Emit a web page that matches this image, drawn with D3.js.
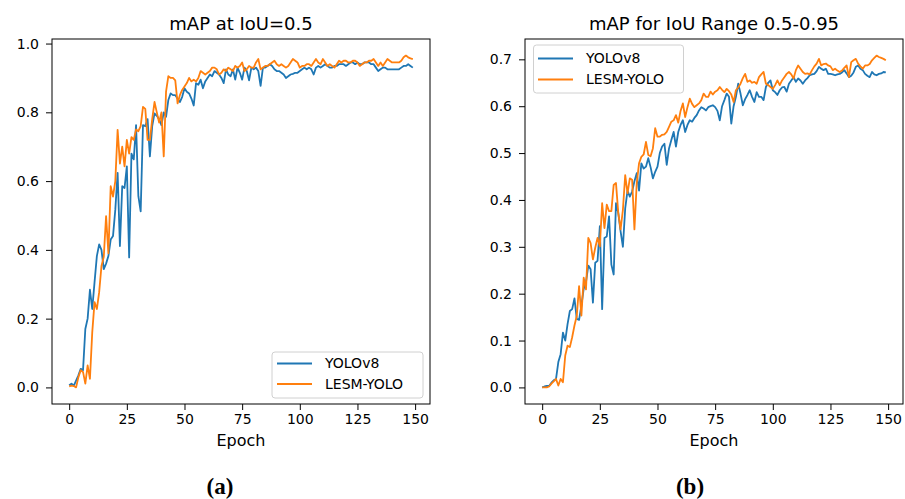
<!DOCTYPE html>
<html><head><meta charset="utf-8">
<script src="https://cdn.jsdelivr.net/npm/d3@7"></script>
<style>body{margin:0;background:#fff;} svg{display:block;}</style>
</head><body>
<svg id="chart" width="905" height="499"></svg>
<script>
const epochs = d3.range(0, 150);
const seriesNames = ["YOLOv8", "LESM-YOLO"];
const seriesColors = ["#1f77b4", "#ff7f0e"];
const titles = ["mAP at IoU=0.5", "mAP for IoU Range 0.5-0.95"];
const panelLabels = ["(a)", "(b)"];
const xTicks = [0, 25, 50, 75, 100, 125, 150];
const yTicksA = [0.0, 0.2, 0.4, 0.6, 0.8, 1.0];
const yTicksB = [0.0, 0.1, 0.2, 0.3, 0.4, 0.5, 0.6, 0.7];

const yoloMap50 = [0.006,0.011,0.005,0.02,0.035,0.054,0.05,0.17,0.2,0.284,
0.228,0.306,0.382,0.416,0.40,0.344,0.36,0.382,0.43,0.44,
0.517,0.624,0.411,0.585,0.58,0.643,0.378,0.68,0.663,0.763,
0.556,0.512,0.763,0.76,0.78,0.672,0.76,0.797,0.79,0.78,
0.763,0.80,0.787,0.836,0.855,0.85,0.85,0.84,0.83,0.845,
0.87,0.86,0.855,0.84,0.82,0.885,0.88,0.895,0.87,0.89,
0.9,0.91,0.905,0.92,0.915,0.91,0.9,0.885,0.925,0.91,
0.905,0.925,0.895,0.93,0.915,0.895,0.93,0.92,0.893,0.93,
0.925,0.93,0.92,0.877,0.93,0.93,0.935,0.94,0.935,0.925,
0.92,0.92,0.915,0.91,0.9,0.905,0.91,0.912,0.915,0.915,
0.92,0.925,0.93,0.925,0.93,0.925,0.91,0.93,0.935,0.93,
0.935,0.94,0.935,0.93,0.93,0.935,0.935,0.94,0.94,0.94,
0.935,0.94,0.945,0.945,0.94,0.945,0.94,0.94,0.945,0.945,
0.945,0.94,0.94,0.93,0.92,0.925,0.93,0.93,0.925,0.925,
0.925,0.925,0.925,0.925,0.93,0.935,0.935,0.94,0.935,0.93];

const lesmMap50 = [0.003,0.005,0.004,0.0,0.03,0.05,0.045,0.011,0.064,0.025,
0.16,0.248,0.228,0.277,0.353,0.38,0.498,0.39,0.585,0.555,
0.6,0.749,0.651,0.70,0.643,0.72,0.68,0.728,0.72,0.75,
0.745,0.76,0.816,0.81,0.72,0.72,0.78,0.83,0.80,0.77,
0.8,0.672,0.86,0.905,0.9,0.9,0.893,0.826,0.85,0.865,
0.875,0.885,0.9,0.89,0.895,0.89,0.9,0.92,0.915,0.91,
0.915,0.92,0.93,0.93,0.925,0.91,0.915,0.925,0.92,0.93,
0.925,0.92,0.935,0.93,0.935,0.945,0.92,0.925,0.935,0.93,
0.93,0.945,0.955,0.925,0.93,0.935,0.935,0.94,0.945,0.95,
0.94,0.935,0.94,0.935,0.93,0.935,0.945,0.955,0.95,0.945,
0.93,0.935,0.935,0.94,0.94,0.935,0.945,0.955,0.945,0.94,
0.955,0.945,0.935,0.94,0.935,0.93,0.94,0.95,0.945,0.95,
0.95,0.945,0.945,0.95,0.95,0.945,0.935,0.94,0.945,0.945,
0.95,0.95,0.955,0.945,0.935,0.945,0.935,0.945,0.955,0.95,
0.945,0.945,0.945,0.945,0.95,0.96,0.965,0.96,0.957,0.955];

const yoloMap5095 = [0.0,0.002,0.003,0.003,0.01,0.015,0.018,0.054,0.071,0.117,
0.1,0.135,0.163,0.167,0.19,0.146,0.144,0.175,0.21,0.225,
0.26,0.252,0.181,0.266,0.27,0.344,0.167,0.319,0.322,0.365,
0.262,0.241,0.393,0.372,0.333,0.3,0.382,0.42,0.407,0.418,
0.44,0.457,0.42,0.478,0.467,0.471,0.489,0.47,0.446,0.46,
0.471,0.5,0.514,0.52,0.475,0.51,0.528,0.545,0.514,0.545,
0.56,0.57,0.545,0.56,0.57,0.567,0.575,0.581,0.591,0.598,
0.595,0.591,0.598,0.6,0.602,0.598,0.59,0.57,0.6,0.613,
0.627,0.62,0.563,0.6,0.62,0.648,0.627,0.602,0.615,0.624,
0.634,0.62,0.609,0.63,0.62,0.62,0.613,0.641,0.65,0.655,
0.634,0.63,0.624,0.634,0.64,0.641,0.631,0.648,0.655,0.662,
0.652,0.659,0.655,0.648,0.655,0.66,0.666,0.668,0.669,0.675,
0.684,0.68,0.677,0.68,0.669,0.669,0.668,0.666,0.668,0.669,
0.672,0.677,0.67,0.662,0.665,0.672,0.684,0.687,0.68,0.677,
0.669,0.665,0.662,0.673,0.668,0.666,0.669,0.67,0.673,0.672];

const lesmMap5095 = [0.0,0.0,0.0,0.002,0.008,0.013,0.018,0.004,0.018,0.011,
0.068,0.089,0.086,0.107,0.132,0.153,0.216,0.153,0.234,0.209,
0.319,0.308,0.273,0.298,0.319,0.301,0.393,0.34,0.39,0.376,
0.376,0.432,0.436,0.372,0.337,0.379,0.453,0.414,0.446,0.443,
0.337,0.436,0.478,0.492,0.497,0.524,0.496,0.493,0.51,0.553,
0.535,0.535,0.539,0.54,0.545,0.556,0.567,0.57,0.581,0.565,
0.59,0.606,0.577,0.598,0.616,0.605,0.598,0.602,0.606,0.613,
0.627,0.62,0.62,0.631,0.625,0.631,0.634,0.641,0.635,0.63,
0.637,0.632,0.625,0.609,0.634,0.64,0.648,0.66,0.669,0.652,
0.655,0.65,0.652,0.648,0.662,0.668,0.673,0.648,0.645,0.641,
0.637,0.645,0.655,0.645,0.655,0.662,0.669,0.673,0.668,0.659,
0.677,0.687,0.68,0.673,0.669,0.67,0.668,0.677,0.685,0.691,
0.701,0.687,0.69,0.691,0.687,0.685,0.677,0.68,0.676,0.673,
0.676,0.682,0.687,0.662,0.694,0.698,0.701,0.691,0.685,0.68,
0.687,0.687,0.69,0.698,0.703,0.708,0.705,0.703,0.701,0.698];

const svg = d3.select("#chart");
const FONT = "'DejaVu Sans', sans-serif";

const panels = [
  {left:52, right:430, top:39, bottom:404, series:[yoloMap50, lesmMap50], yTicks:yTicksA, fmt:d3.format(".1f"),
   legend:{x:272, y:352, w:151, h:46, lineX1:277, lineX2:312, textX:325, row1:363.5, row2:384}},
  {left:525, right:903, top:39, bottom:404, series:[yoloMap5095, lesmMap5095], yTicks:yTicksB, fmt:d3.format(".1f"),
   legend:{x:533.5, y:45, w:150, h:48, lineX1:538, lineX2:573, textX:586, row1:58.5, row2:79.5}}
];

panels.forEach((p, i) => {
  const all = p.series.flat();
  const ymin = d3.min(all), ymax = d3.max(all);
  const ym = (ymax - ymin) * 0.05;
  const xm = (epochs[epochs.length-1] - epochs[0]) * 0.05;
  const x = d3.scaleLinear().domain([epochs[0]-xm, epochs[epochs.length-1]+xm]).range([p.left, p.right]);
  const y = d3.scaleLinear().domain([ymin-ym, ymax+ym]).range([p.bottom, p.top]);
  const g = svg.append("g");

  const line = d3.line().x((d, k) => x(epochs[k])).y(d => y(d));
  p.series.forEach((s, k) => {
    g.append("path").datum(s).attr("d", line).attr("fill", "none")
      .attr("stroke", seriesColors[k]).attr("stroke-width", 1.8).attr("stroke-linejoin", "round");
  });

  g.append("rect").attr("x", p.left).attr("y", p.top).attr("width", p.right-p.left).attr("height", p.bottom-p.top)
    .attr("fill", "none").attr("stroke", "#000").attr("stroke-width", 1);

  const xAxis = d3.axisBottom(x).tickValues(xTicks).tickSize(6).tickPadding(4).tickFormat(d3.format("d"));
  const gx = g.append("g").attr("transform", `translate(0,${p.bottom})`).call(xAxis);
  const yAxis = d3.axisLeft(y).tickValues(p.yTicks).tickSize(6).tickPadding(7).tickFormat(p.fmt);
  const gy = g.append("g").attr("transform", `translate(${p.left},0)`).call(yAxis);
  [gx, gy].forEach(a => {
    a.select(".domain").remove();
    a.selectAll("text").attr("font-family", FONT).attr("font-size", 14).attr("fill", "#000");
    a.selectAll("line").attr("stroke", "#000");
  });

  const cx = (p.left + p.right) / 2;
  g.append("text").attr("x", cx).attr("y", 30).attr("text-anchor", "middle")
    .attr("font-family", FONT).attr("font-size", 18).text(titles[i]);
  g.append("text").attr("x", cx).attr("y", 446).attr("text-anchor", "middle")
    .attr("font-family", FONT).attr("font-size", 16).text("Epoch");

  const L = p.legend;
  g.append("rect").attr("x", L.x).attr("y", L.y).attr("width", L.w).attr("height", L.h)
    .attr("rx", 3).attr("fill", "#fff").attr("fill-opacity", 0.8).attr("stroke", "#d0d0d0");
  [L.row1, L.row2].forEach((ry, k) => {
    g.append("line").attr("x1", L.lineX1).attr("x2", L.lineX2).attr("y1", ry).attr("y2", ry)
      .attr("stroke", seriesColors[k]).attr("stroke-width", 1.8);
    g.append("text").attr("x", L.textX).attr("y", ry).attr("dy", "0.35em")
      .attr("font-family", FONT).attr("font-size", 14).text(seriesNames[k]);
  });
});

[220, 690].forEach((cx, i) => {
  svg.append("text").attr("x", cx).attr("y", 494).attr("text-anchor", "middle")
    .attr("font-family", "'Liberation Serif', 'Times New Roman', serif").attr("font-weight", "bold")
    .attr("font-size", 23).text(panelLabels[i]);
});
</script>
</body></html>
